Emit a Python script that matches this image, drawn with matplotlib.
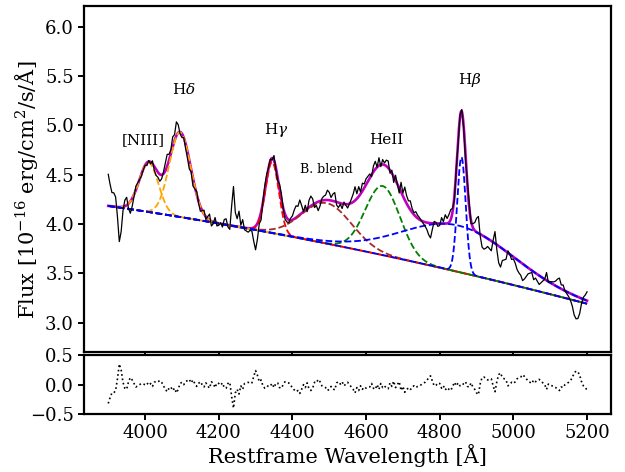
import numpy as np
import matplotlib
matplotlib.use("Agg")
import matplotlib.pyplot as plt

plt.rcParams['font.family'] = 'DejaVu Serif'
plt.rcParams['mathtext.fontset'] = 'dejavuserif'

# continuum: quadratic around 4500 A  (a + b*t + c*t^2, t = wave - 4500)
cont_pivot = 4500.0
cont_coef = [3.797, -7.46e-4, -1.685e-7]

# fitted gaussian components
line_centres = [4010, 4095, 4345, 4493, 4645, 4850, 4859]
line_sigmas = [26, 29, 18, 68, 47, 150, 11.5]
line_amps = [0.50, 0.86, 0.72, 0.41, 0.70, 0.47, 1.17]
line_colors = ['orange', 'orange', 'red', 'brown', 'green', 'blue', 'blue']

# residuals (model - data), every 5 A from 3900 to 5200
resid = [
    -0.32, -0.22, -0.14, -0.14, -0.10, 0.10, 0.35, 0.25, 0.04, -0.06,
    -0.08, 0.05, 0.12, 0.08, 0.02, -0.04, -0.02, 0.00, 0.02, 0.01,
    0.00, 0.03, -0.01, 0.02, -0.03, 0.04, 0.06, 0.05, 0.07, 0.04,
    -0.02, -0.08, -0.12, -0.06, -0.04, -0.10, -0.06, -0.14, -0.08, 0.02,
    0.04, 0.00, 0.05, 0.07, 0.09, 0.03, 0.08, 0.02, -0.03, 0.02,
    0.05, 0.00, -0.04, 0.03, -0.02, -0.06, 0.05, 0.02, -0.05, 0.03,
    0.02, -0.01, 0.03, -0.05, -0.06, 0.02, 0.04, -0.20, -0.40, -0.14,
    -0.08, -0.16, -0.02, -0.08, 0.02, 0.03, 0.04, 0.02, 0.03, 0.14,
    0.24, 0.16, 0.05, 0.08, -0.02, -0.06, -0.05, -0.01, -0.02, 0.02,
    -0.05, 0.02, 0.03, -0.05, -0.06, 0.00, 0.05, 0.04, 0.03, -0.02,
    -0.04, -0.09, -0.12, -0.10, -0.15, -0.08, 0.00, -0.05, 0.03, -0.07,
    -0.10, -0.06, 0.04, 0.03, 0.09, 0.05, -0.02, -0.04, -0.05, -0.10,
    -0.08, -0.03, -0.07, -0.09, 0.03, 0.05, 0.01, 0.05, -0.02, 0.01,
    0.04, 0.00, -0.04, -0.08, -0.14, -0.05, -0.10, -0.02, -0.08, -0.04,
    -0.06, -0.05, -0.04, 0.02, -0.06, -0.08, 0.00, -0.08, 0.02, -0.05,
    -0.02, -0.06, -0.07, 0.03, -0.03, 0.06, -0.05, 0.00, 0.05, -0.10,
    -0.03, -0.13, -0.08, -0.06, -0.09, -0.04, -0.02, -0.05, -0.03, -0.02,
    0.00, 0.02, 0.04, 0.07, 0.12, 0.15, 0.06, -0.02, -0.01, 0.03,
    0.02, -0.06, -0.02, -0.09, -0.05, -0.08, -0.10, -0.03, 0.04, -0.02,
    0.03, -0.02, -0.02, 0.02, 0.05, -0.03, -0.04, 0.03, -0.04, -0.08,
    -0.14, -0.17, 0.02, 0.12, 0.13, 0.11, 0.08, 0.09, 0.10, -0.02,
    -0.12, 0.05, 0.17, 0.20, 0.12, 0.10, 0.08, -0.02, 0.00, 0.04,
    0.02, 0.05, 0.10, 0.12, 0.13, 0.17, 0.14, 0.10, 0.06, 0.04,
    0.02, 0.08, 0.05, 0.07, 0.09, 0.06, 0.03, 0.00, -0.08, 0.01,
    -0.01, -0.02, -0.03, -0.05, -0.08, -0.10, -0.04, -0.05, 0.00, 0.02,
    0.04, 0.07, 0.12, 0.20, 0.23, 0.22, 0.16, 0.05, -0.02, -0.05,
    -0.09,
]

wave = np.arange(3900, 5201, 5)
grid = np.linspace(3900, 5200, 1301)

line_labels = ['[NIII]', r'H$\delta$', r'H$\gamma$', 'B. blend', 'HeII', r'H$\beta$']
label_x = [3995, 4104, 4357, 4493, 4656, 4882]
label_y = [4.85, 5.36, 4.95, 4.55, 4.85, 5.46]
label_size = [11, 11, 11, 9, 11, 11]


def continuum(x):
    t = x - cont_pivot
    return cont_coef[0] + cont_coef[1] * t + cont_coef[2] * t**2


def gauss(x, amp, cen, sig):
    return amp * np.exp(-(x - cen)**2 / (2 * sig**2))


def model(x):
    m = continuum(x)
    for a, c, s in zip(line_amps, line_centres, line_sigmas):
        m = m + gauss(x, a, c, s)
    return m


flux = model(wave) - np.array(resid)

fig = plt.figure(figsize=(6.25, 4.72), dpi=100)
ax1 = fig.add_axes([0.1349, 0.2536, 0.8427, 0.7337])
ax2 = fig.add_axes([0.1349, 0.1229, 0.8427, 0.1243])

ax1.plot(grid, model(grid), color='m', lw=1.9, zorder=2)
for a, c, s, col in zip(line_amps, line_centres, line_sigmas, line_colors):
    ax1.plot(grid, continuum(grid) + gauss(grid, a, c, s), '--', color=col, lw=1.3, zorder=3)
ax1.plot(wave, flux, color='k', lw=0.9, zorder=4)

for lab, x, y, fs in zip(line_labels, label_x, label_y, label_size):
    ax1.text(x, y, lab, ha='center', va='center', fontsize=fs)

ax2.plot(wave, resid, ':', color='k', lw=1.2)

for ax in (ax1, ax2):
    ax.set_xlim(3835, 5265)
    ax.set_xticks(np.arange(4000, 5201, 200))
    for sp in ax.spines.values():
        sp.set_linewidth(1.6)
    ax.tick_params(labelsize=13, width=1.4, length=4)

ax1.set_ylim(2.70, 6.21)
ax1.set_yticks(np.arange(3.0, 6.01, 0.5))
ax1.tick_params(labelbottom=False)
ax2.set_ylim(-0.5, 0.5)
ax2.set_yticks([-0.5, 0.0, 0.5])

ax1.set_ylabel(r'Flux [10$^{-16}$ erg/cm$^2$/s/Å]', fontsize=15)
ax1.yaxis.set_label_coords(-0.084, 0.47)
ax2.set_xlabel('Restframe Wavelength [Å]', fontsize=15, labelpad=1)

fig.savefig('out.png', dpi=100)
